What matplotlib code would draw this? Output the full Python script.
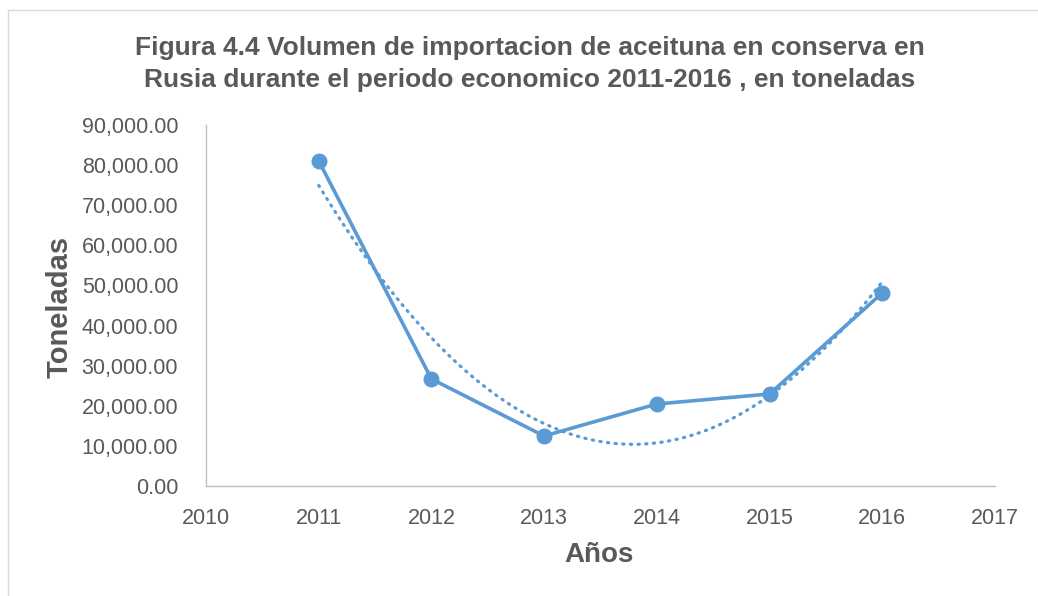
import numpy as np
import matplotlib
matplotlib.use("Agg")
import matplotlib.pyplot as plt
from matplotlib.patches import Rectangle
from matplotlib.ticker import FuncFormatter

# Data
years = [2011, 2012, 2013, 2014, 2015, 2016]
toneladas = [81050, 26680, 12470, 20450, 22940, 48130]
x_ticks = [2010, 2011, 2012, 2013, 2014, 2015, 2016, 2017]
y_ticks = [0, 10000, 20000, 30000, 40000, 50000, 60000, 70000, 80000, 90000]

title = ("Figura 4.4 Volumen de importacion de aceituna en conserva en\n"
         "Rusia durante el periodo economico 2011-2016 , en toneladas")

blue = "#5B9BD5"
grey_text = "#595959"
axis_grey = "#BFBFBF"

plt.rcParams["font.family"] = ["Liberation Sans", "DejaVu Sans"]

fig = plt.figure(figsize=(10.38, 5.96), dpi=100)
ax = fig.add_axes([206 / 1038, 1 - 486 / 596, (995 - 206) / 1038, (486 - 125) / 596])

# chart area border
fig.patches.append(Rectangle((8 / 1038, -0.1), 1.2, 1 - 10 / 596 + 0.1,
                             transform=fig.transFigure, fill=False,
                             edgecolor="#D9D9D9", linewidth=1.0))

ax.plot(years, toneladas, color=blue, linewidth=2.6, marker="o",
        markersize=10.5, zorder=3)

# polynomial (order 2) trendline, as Excel does
coef = np.polyfit(np.array(years) - 2011, toneladas, 2)
xt = np.linspace(years[0], years[-1], 200)
ax.plot(xt, np.polyval(coef, xt - 2011), color=blue, linewidth=2.3,
        linestyle=(0, (0.4, 2.0)), dash_capstyle="round", zorder=2)

ax.set_xlim(2010, 2017)
ax.set_ylim(0, 90000)
ax.set_xticks(x_ticks)
ax.set_yticks(y_ticks)
ax.yaxis.set_major_formatter(FuncFormatter(lambda v, p: f"{v:,.2f}"))
ax.tick_params(length=0, labelsize=15.5, colors=grey_text)
ax.tick_params(axis="y", pad=20)
ax.tick_params(axis="x", pad=16)

for s in ["top", "right"]:
    ax.spines[s].set_visible(False)
for s in ["left", "bottom"]:
    ax.spines[s].set_color(axis_grey)
    ax.spines[s].set_linewidth(1.0)

fig.text(530 / 1038, 1 - 64 / 596, title, ha="center", va="center",
         fontsize=19, fontweight="bold", color=grey_text, linespacing=1.4)
fig.text(60 / 1038, 1 - 307 / 596, "Toneladas", rotation=90, ha="center",
         va="center", fontsize=21, fontweight="bold", color=grey_text)
fig.text(599 / 1038, 1 - 555 / 596, "Años", ha="center", va="center",
         fontsize=20, fontweight="bold", color=grey_text)

fig.savefig("out.png", dpi=100)
